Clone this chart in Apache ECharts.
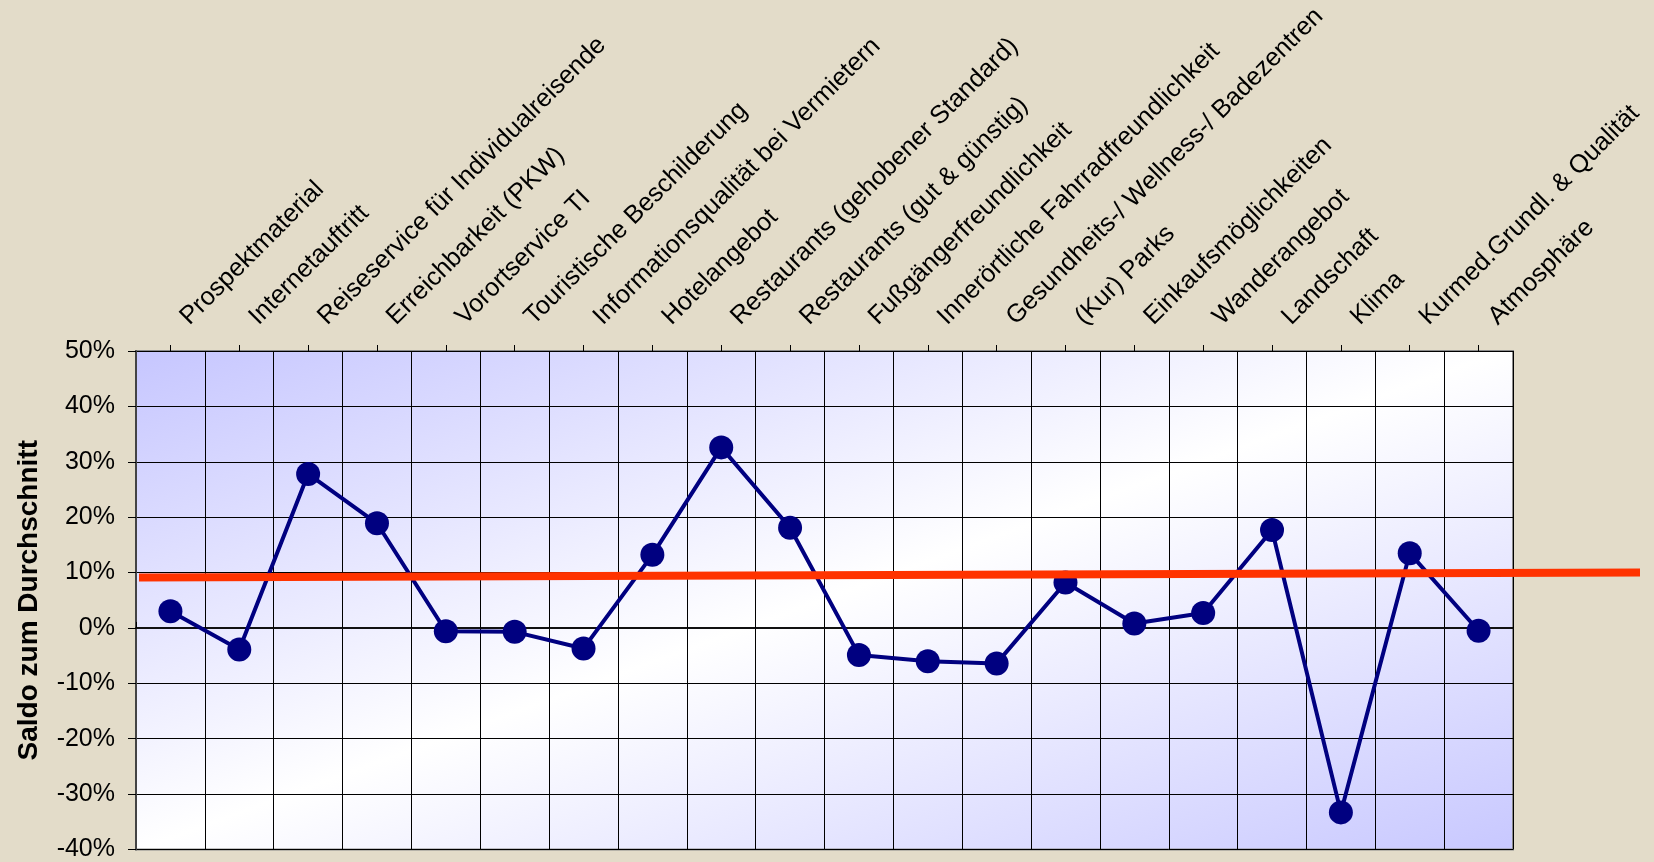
<!DOCTYPE html>
<html>
<head>
<meta charset="utf-8">
<title>Saldo zum Durchschnitt</title>
<script src="https://cdn.jsdelivr.net/npm/echarts@6/dist/echarts.min.js"></script>
<style>
  html, body { margin: 0; padding: 0; background: #E3DCC9; }
  #chart { width: 1654px; height: 862px; }
</style>
</head>
<body>
<div id="chart"></div>
<script>
// Kategorien der Befragung
const categories = [
  'Prospektmaterial',
  'Internetauftritt',
  'Reiseservice für Individualreisende',
  'Erreichbarkeit (PKW)',
  'Vorortservice TI',
  'Touristische Beschilderung',
  'Informationsqualität bei Vermietern',
  'Hotelangebot',
  'Restaurants (gehobener Standard)',
  'Restaurants (gut & günstig)',
  'Fußgängerfreundlichkeit',
  'Innerörtliche Fahrradfreundlichkeit',
  'Gesundheits-/ Wellness-/ Badezentren',
  '(Kur) Parks',
  'Einkaufsmöglichkeiten',
  'Wanderangebot',
  'Landschaft',
  'Klima',
  'Kurmed.Grundl. & Qualität',
  'Atmosphäre'
];

// Saldo je Kategorie in Prozent
const saldo = [3.0, -3.9, 27.8, 18.9, -0.6, -0.7, -3.7, 13.2, 32.6, 18.1,
               -4.9, -6.0, -6.4, 8.2, 0.8, 2.7, 17.7, -33.3, 13.5, -0.5];

// Referenzlinie: Wert am Anfang und am Ende
const referenceLine = [9.3, 10.2];

// Skala der Werteachse
const yMin = -40;
const yMax = 50;
const yStep = 10;

const FONT = '"Liberation Sans", Arial, sans-serif';

const chart = echarts.init(document.getElementById('chart'), null, { renderer: 'canvas' });

const plotGrid = { left: 136, right: 141, top: 351, bottom: 10 };

chart.setOption({
  backgroundColor: '#E3DCC9',
  animation: false,
  grid: [
    {
      left: plotGrid.left, right: plotGrid.right, top: plotGrid.top, bottom: plotGrid.bottom,
      show: true,
      borderColor: '#8a8a8a',
      borderWidth: 2,
      backgroundColor: {
        type: 'linear', x: 0, y: 0, x2: 0.234, y2: 1.766,
        colorStops: [
          { offset: 0, color: '#C6C6FF' },
          { offset: 0.5, color: '#FFFFFF' },
          { offset: 1, color: '#C8C8FF' }
        ]
      }
    },
    // Grid for the reference line, which runs past the plot's right edge
    { left: 139, right: 14, top: plotGrid.top, bottom: plotGrid.bottom, show: false }
  ],
  xAxis: [
    {
      type: 'category',
      gridIndex: 0,
      position: 'top',
      data: categories,
      boundaryGap: true,
      axisLine: { show: true, lineStyle: { color: '#111', width: 2 } },
      axisTick: { show: true, length: 6, lineStyle: { color: '#000', width: 1 } },
      axisLabel: {
        show: true,
        interval: 0,
        rotate: 45,
        margin: 16,
        padding: [0, 0, 0, 20],
        color: '#000',
        fontFamily: FONT,
        fontSize: 25.5
      },
      splitLine: { show: true, interval: 0, lineStyle: { color: '#000', width: 1 } }
    },
    {
      // Ticks at the category centres
      type: 'category',
      gridIndex: 0,
      position: 'top',
      data: categories,
      boundaryGap: true,
      axisLine: { show: false },
      axisTick: { show: true, alignWithLabel: true, interval: 0, length: 6, lineStyle: { color: '#000', width: 1 } },
      axisLabel: { show: false },
      splitLine: { show: false }
    },
    {
      type: 'value',
      gridIndex: 1,
      min: 0,
      max: 1,
      show: false
    }
  ],
  yAxis: [
    {
      type: 'value',
      gridIndex: 0,
      min: yMin,
      max: yMax,
      interval: yStep,
      name: 'Saldo zum Durchschnitt',
      nameLocation: 'middle',
      nameRotate: 90,
      nameGap: 93,
      nameTextStyle: { fontFamily: FONT, fontSize: 28, fontWeight: 'bold', color: '#000' },
      axisLine: { show: true, lineStyle: { color: '#444', width: 2 } },
      axisTick: { show: true, length: 8, lineStyle: { color: '#000', width: 1 } },
      axisLabel: {
        formatter: '{value}%',
        margin: 21,
        color: '#000',
        fontFamily: FONT,
        fontSize: 25
      },
      splitLine: { show: true, lineStyle: { color: '#000', width: 1 } }
    },
    {
      type: 'value',
      gridIndex: 1,
      min: yMin,
      max: yMax,
      show: false
    }
  ],
  series: [
    {
      type: 'line',
      xAxisIndex: 0,
      yAxisIndex: 0,
      data: saldo,
      symbol: 'circle',
      symbolSize: 24,
      lineStyle: { color: '#000080', width: 4 },
      itemStyle: { color: '#000080' },
      z: 3
    },
    {
      type: 'line',
      xAxisIndex: 2,
      yAxisIndex: 1,
      data: [[0, referenceLine[0]], [1, referenceLine[1]]],
      symbol: 'none',
      lineStyle: { color: '#FF3300', width: 8, cap: 'butt' },
      z: 5,
      silent: true
    }
  ]
});
</script>
</body>
</html>
